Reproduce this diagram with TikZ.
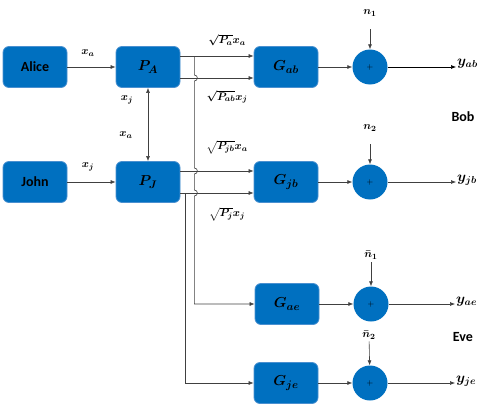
\documentclass[tikz,border=0pt]{standalone}
\usepackage{fontspec}
\setsansfont{Carlito}
\usepackage{amsmath}
\usetikzlibrary{arrows.meta}

\definecolor{boxblue}{HTML}{0070C0}
\definecolor{edgeblue}{HTML}{4A90D0}
\definecolor{wiregray}{HTML}{404040}

\tikzstyle{block}=[draw=edgeblue,fill=boxblue,rounded corners=6pt,minimum width=64pt,minimum height=41pt,line width=0.8pt]
\tikzstyle{adder}=[circle,fill=boxblue,minimum size=35pt,inner sep=0pt,font=\fontsize{8}{8}\selectfont]
\tikzstyle{person}=[font=\sffamily\bfseries\fontsize{14}{16}\selectfont]
\tikzstyle{sym}=[font=\fontsize{15}{17}\selectfont\boldmath]
\tikzstyle{lbl}=[inner sep=1pt,font=\fontsize{11}{13}\selectfont\boldmath]
\tikzstyle{outlbl}=[inner sep=1pt,font=\fontsize{14}{16}\selectfont\boldmath]
\tikzstyle{wire}=[draw=wiregray,line width=0.6pt]
\tikzstyle{arr}=[wire,-{Latex[length=5pt,width=4pt]}]
\tikzstyle{arrs}=[wire,{Latex[length=5pt,width=4pt]}-{Latex[length=5pt,width=4pt]}]

\begin{document}
\begin{tikzpicture}[x=1pt,y=-1pt]
   \useasboundingbox (0,0) rectangle (485,415);

   % Users
   \node[block,person] (alice) at (35,67) {Alice};
   \node[block,person] (john) at (35,182) {John};

   % Power blocks
   \node[block,sym] (pa) at (148,67) {$P_A$};
   \node[block,sym] (pj) at (148,182) {$P_J$};

   % Channels
   \node[block,sym] (gab) at (286,67) {$G_{ab}$};
   \node[block,sym] (gjb) at (286,182) {$G_{jb}$};
   \node[block,sym] (gae) at (287,304) {$G_{ae}$};
   \node[block,sym] (gje) at (286,383) {$G_{je}$};

   % Noise adders
   \node[adder] (sab) at (370,67) {$+$};
   \node[adder] (sjb) at (370,182) {$+$};
   \node[adder] (sae) at (371,304) {$+$};
   \node[adder] (sje) at (370,383) {$+$};

   % Noise labels
   \node[lbl] (n1) at (370,13) {$n_1$};
   \node[lbl] (n2) at (370,128) {$n_2$};
   \node[lbl] (nb1) at (371,255) {$\bar{n}_1$};
   \node[lbl] (nb2) at (369,335) {$\bar{n}_2$};

   % Outputs
   \node[outlbl,anchor=west] (yab) at (456,64) {$y_{ab}$};
   \node[outlbl,anchor=west] (yjb) at (456,180) {$y_{jb}$};
   \node[outlbl,anchor=west] (yae) at (455,302) {$y_{ae}$};
   \node[outlbl,anchor=west] (yje) at (455,381) {$y_{je}$};
   \node[person] (bob) at (463,117) {Bob};
   \node[person] (eve) at (463,337) {Eve};

   % Signal labels
   \node[lbl] (xa1) at (88,53) {$x_a$};
   \node[lbl] (xj1) at (88,167) {$x_j$};
   \node[lbl] (xj2) at (127,100) {$x_j$};
   \node[lbl] (xa2) at (126,135) {$x_a$};
   \node[lbl] (la) at (227,40) {$\sqrt{P_a}x_a$};
   \node[lbl] (lab) at (227,97) {$\sqrt{P_{ab}}x_j$};
   \node[lbl] (ljb) at (227,147) {$\sqrt{P_{jb}}x_a$};
   \node[lbl] (lj) at (227,214) {$\sqrt{P_j}x_j$};

   % Branch points
   \coordinate (sa) at ([xshift=14pt,yshift=11pt]pa.east);
   \coordinate (sj) at ([xshift=5pt,yshift=-11pt]pj.east);

   \draw[arr] (alice) -- (pa);
   \draw[arr] (john) -- (pj);
   \draw[arrs] (pa) -- (pj);

   \draw[arr] ([yshift=11pt]pa.east) -- ([yshift=11pt]gab.west);
   \draw[arr] ([yshift=-11pt]pa.east) -- ([yshift=-11pt]gab.west);
   \draw[arr] ([yshift=11pt]pj.east) -- ([yshift=11pt]gjb.west);
   \draw[arr] ([yshift=-11pt]pj.east) -- ([yshift=-11pt]gjb.west);

   % Eve branches (hop over the crossings)
   \draw[arr] (sa) -- ++(0,19) arc[start angle=90,end angle=-90,radius=3pt]
      -- ++(0,87) arc[start angle=90,end angle=-90,radius=3pt]
      -- ++(0,16) arc[start angle=90,end angle=-90,radius=3pt]
      |- (gae.west);
   \draw[arr] (sj) |- (gje.west);

   \draw[arr] (gab) -- (sab);
   \draw[arr] (gjb) -- (sjb);
   \draw[arr] (gae) -- (sae);
   \draw[arr] (gje) -- (sje);

   \draw[arr,shorten <=12pt] (n1) -- (sab);
   \draw[arr,shorten <=12pt] (n2) -- (sjb);
   \draw[arr,shorten <=2pt] (nb1) -- (sae);
   \draw[arr,shorten <=1pt] (nb2) -- (sje);

   \draw[arr,draw=black] (sab) -- (sab -| yab.west);
   \draw[arr] (sjb) -- (sjb -| yjb.west);
   \draw[arr] (sae) -- (sae -| yae.west);
   \draw[arr] (sje) -- (sje -| yje.west);

\end{tikzpicture}
\end{document}
